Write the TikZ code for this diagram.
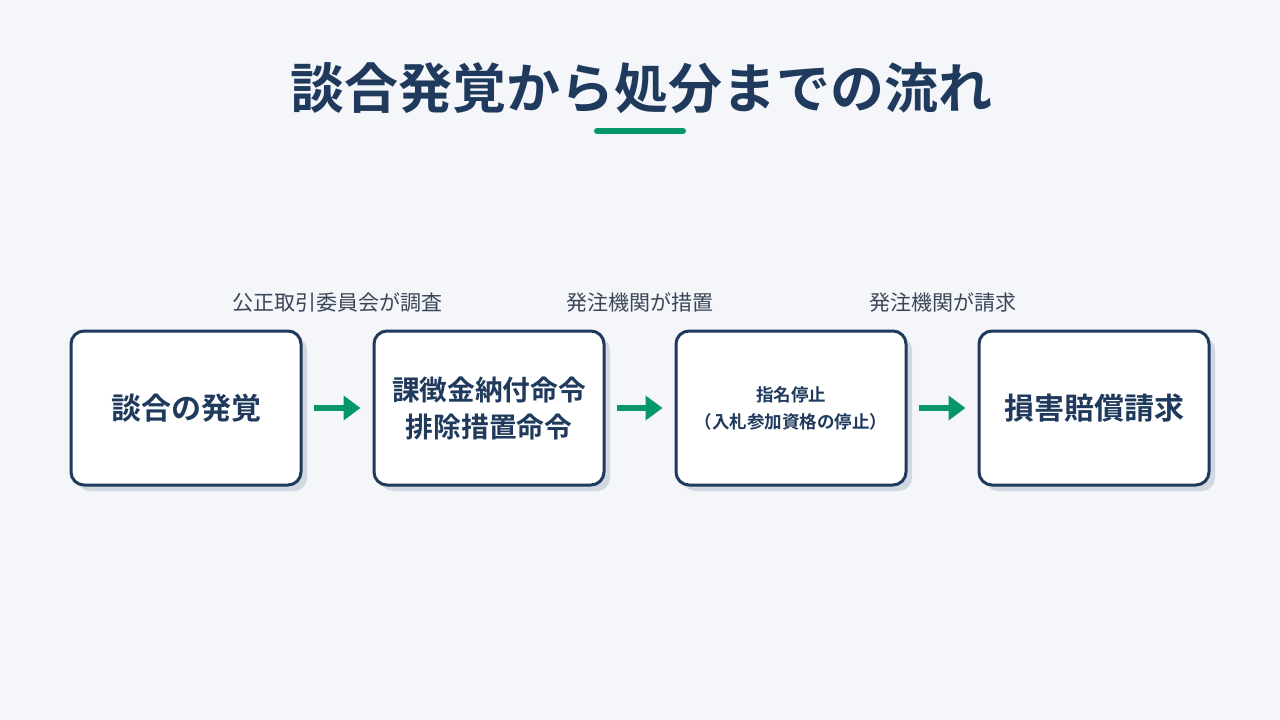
\documentclass[tikz,border=0pt]{standalone}
\usepackage{fontspec}
\newfontfamily\cjk{Noto Sans CJK JP}
\newfontfamily\cjkb{Noto Sans CJK JP Bold}
\usetikzlibrary{arrows.meta}
\definecolor{bg}{HTML}{F4F6F9}
\definecolor{navy}{HTML}{1F3A5C}
\definecolor{grn}{HTML}{059669}
\definecolor{shadowc}{HTML}{D2D8E2}
\definecolor{lbl}{HTML}{3A4658}
\tikzset{
  x=1pt,y=-1pt,
  stepbox/.style={draw=navy,line width=3pt,fill=white,rounded corners=13pt,minimum width=230pt,minimum height=154pt,align=center,text=navy,inner sep=0pt},
  shadowbox/.style={fill=shadowc,rounded corners=13pt,minimum width=230pt,minimum height=154pt,inner sep=0pt},
  flow/.style={draw=grn,line width=6pt,-{Triangle[length=17pt,width=24pt]}},
  toplabel/.style={text=lbl,font=\cjk\fontsize{21}{24}\selectfont},
}
\begin{document}
\begin{tikzpicture}
\fill[bg] (0,0) rectangle (1280,720);
\useasboundingbox (0,0) rectangle (1280,720);
\node[text=navy,font=\cjkb\fontsize{54}{64}\selectfont] (title) at (641,88) {談合発覚から処分までの流れ};
\draw[grn,line width=6pt,line cap=round] (597,131) -- (683,131);
\foreach \x in {186,489,791,1094}{
  \node[shadowbox] at (\x+6,414) {};
}
\node[stepbox,font=\cjkb\fontsize{30}{36}\selectfont] (b1) at (186,408) {談合の発覚};
\node[stepbox,font=\cjkb\fontsize{27.7}{37}\selectfont] (b2) at (489,408) {課徴金納付命令\\排除措置命令};
\node[stepbox,font=\cjkb\fontsize{17.5}{27}\selectfont] (b3) at (791,408) {指名停止\\（入札参加資格の停止）};
\node[stepbox,font=\cjkb\fontsize{30}{36}\selectfont] (b4) at (1094,408) {損害賠償請求};
\draw[flow] ([xshift=11pt]b1.east) -- ([xshift=-12pt]b2.west);
\draw[flow] ([xshift=11pt]b2.east) -- ([xshift=-12pt]b3.west);
\draw[flow] ([xshift=11pt]b3.east) -- ([xshift=-12pt]b4.west);
\node[toplabel] (l1) at (337.5,303) {公正取引委員会が調査};
\node[toplabel] (l2) at (640,303) {発注機関が措置};
\node[toplabel] (l3) at (942.5,303) {発注機関が請求};
\end{tikzpicture}
\end{document}
